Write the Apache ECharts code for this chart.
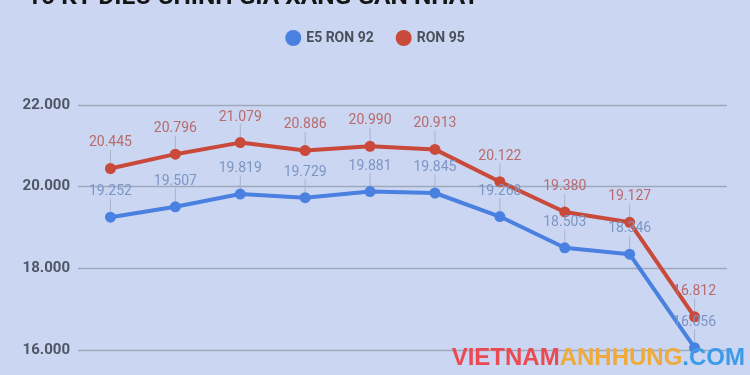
<!DOCTYPE html>
<html>
<head>
<meta charset="utf-8">
<script src="https://cdn.jsdelivr.net/npm/echarts@6/dist/echarts.min.js"></script>
<style>
html,body{margin:0;padding:0;background:#cbd7f2;}
#c{width:750px;height:375px;}
</style>
</head>
<body>
<div id="c"></div>
<script>
const categories = ['1','2','3','4','5','6','7','8','9','10'];
const ron92 = [19252, 19507, 19819, 19729, 19881, 19845, 19268, 18503, 18346, 16056];
const ron95 = [20445, 20796, 21079, 20886, 20990, 20913, 20122, 19380, 19127, 16812];
const yTicks = [16000, 18000, 20000, 22000];
const titleText = '10 KỲ ĐIỀU CHỈNH GIÁ XĂNG GẦN NHẤT';

const fmt = v => (v/1000).toFixed(3);

const chart = echarts.init(document.getElementById('c'));
function mkSeries(name, data, color, labelColor){
  return {
    name, type:'line', data,
    symbol:'circle', symbolSize:11,
    lineStyle:{width:4, color},
    itemStyle:{color},
    label:{show:true, position:'top', distance:4, color:labelColor,
      fontFamily:'Roboto', fontSize:14, formatter:p=>fmt(p.value)},
    labelLayout:{dy:-9},
    labelLine:{show:true, lineStyle:{color:'#aab3c8', width:1}},
    z: 2
  };
}
chart.setOption({
  backgroundColor:'#cbd7f2',
  animation:false,
  title:{text:titleText, left:22, top:-20,
    textStyle:{fontFamily:'Roboto', fontWeight:'bold', fontSize:24.5, color:'#151515'}},
  legend:{top:25, left:'center', itemWidth:16, itemHeight:16, itemGap:22, icon:'circle',
    textStyle:{fontFamily:'Roboto', fontSize:14, color:'#4a4f5c', fontWeight:'bold'},
    data:['E5 RON 92','RON 95']},
  grid:{left:78, right:23, top:105, bottom:25},
  xAxis:{type:'category', data:categories, boundaryGap:true,
    axisLine:{show:false}, axisTick:{show:false}, axisLabel:{show:false}},
  yAxis:{type:'value', min:yTicks[0], max:yTicks[yTicks.length-1], interval:2000,
    axisLabel:{formatter:v=>fmt(v), fontFamily:'Roboto', fontWeight:'bold', fontSize:15, color:'#4f5767', margin:8},
    splitLine:{lineStyle:{color:'#9ea8bd', width:1.3}},
    axisLine:{show:false}, axisTick:{show:false}},
  series:[
    mkSeries('E5 RON 92', ron92, '#4a80e0', '#7c95c4'),
    mkSeries('RON 95', ron95, '#c9493b', '#b86a6c')
  ],
  graphic:[{
    type:'text', right:5, bottom:5,
    style:{
      text:'{a|VIETNAM}{b|ANHHUNG}{c|.COM}',
      rich:{
        a:{fill:'#ea4a52', fontFamily:'Liberation Sans', fontWeight:'bold', fontSize:24},
        b:{fill:'#efaa3c', fontFamily:'Liberation Sans', fontWeight:'bold', fontSize:24},
        c:{fill:'#3d9be9', fontFamily:'Liberation Sans', fontWeight:'bold', fontSize:24}
      }
    },
    z:100
  }]
});
</script>
</body>
</html>
